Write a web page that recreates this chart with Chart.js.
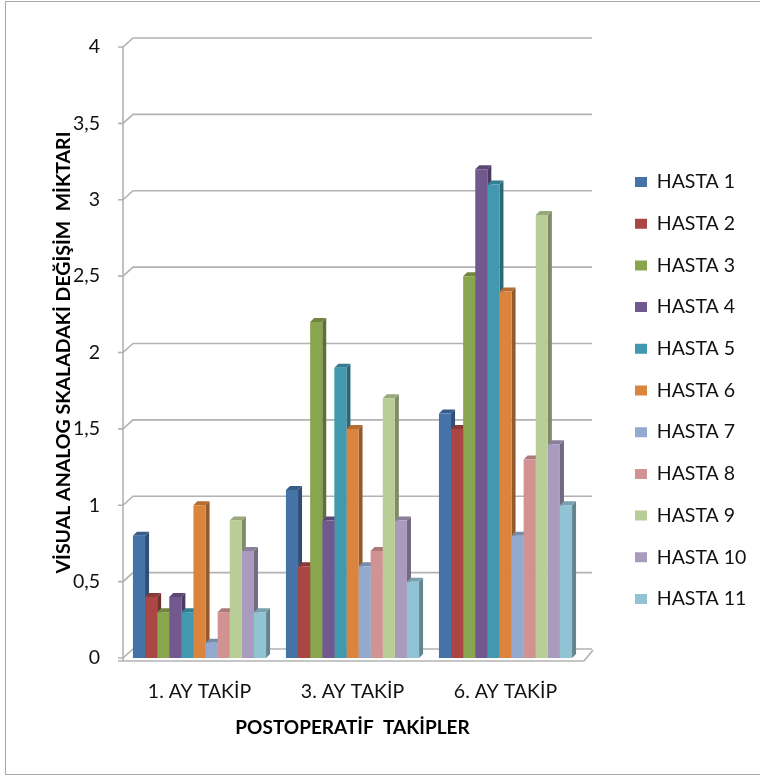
<!DOCTYPE html>
<html>
<head>
<meta charset="utf-8">
<script src="https://cdn.jsdelivr.net/npm/chart.js@4.4.1/dist/chart.umd.min.js"></script>
<style>
  html, body { margin: 0; padding: 0; background: #ffffff; }
  canvas { display: block; }
</style>
</head>
<body>
<canvas id="c" width="760" height="775"></canvas>
<script>
// ---------- DATA ----------
const categories = ['1. AY TAKİP', '3. AY TAKİP', '6. AY TAKİP'];
const seriesNames = ['HASTA 1', 'HASTA 2', 'HASTA 3', 'HASTA 4', 'HASTA 5', 'HASTA 6',
                     'HASTA 7', 'HASTA 8', 'HASTA 9', 'HASTA 10', 'HASTA 11'];
const hasta1  = [0.8, 1.1, 1.6];
const hasta2  = [0.4, 0.6, 1.5];
const hasta3  = [0.3, 2.2, 2.5];
const hasta4  = [0.4, 0.9, 3.2];
const hasta5  = [0.3, 1.9, 3.1];
const hasta6  = [1.0, 1.5, 2.4];
const hasta7  = [0.1, 0.6, 0.8];
const hasta8  = [0.3, 0.7, 1.3];
const hasta9  = [0.9, 1.7, 2.9];
const hasta10 = [0.7, 0.9, 1.4];
const hasta11 = [0.3, 0.5, 1.0];
const seriesValues = [hasta1, hasta2, hasta3, hasta4, hasta5, hasta6,
                      hasta7, hasta8, hasta9, hasta10, hasta11];
const yMin = 0, yMax = 4, yStep = 0.5;
const yTitle = 'VİSUAL ANALOG SKALADAKİ DEĞİŞİM  MİKTARI';
const xTitle = 'POSTOPERATİF  TAKİPLER';

// ---------- STYLE ----------
const palette = ['#4572A7', '#AA4643', '#89A54E', '#71588F', '#4198AF', '#DB843D',
                 '#93A9CF', '#D19392', '#B9CD96', '#A99BBD', '#92C3D4'];
const FONT = 'Lato';
const FS = 19.5;          // regular text size
const DEPTH = 4;          // 3D depth of the bars (px)
const WALL_DX = 10, WALL_DY = 9; // back-wall offset for gridlines

// legend geometry
const LEG_BOX_W = 12, LEG_BOX_H = 10, LEG_PAD = 22.2;
const LEG_ITEM_X = 635;           // where the legend keys start
const PLOT_RIGHT = 582;           // right edge of the plot (front)
const legendLeft = LEG_ITEM_X - LEG_PAD;
const mctx = document.createElement('canvas').getContext('2d');
mctx.font = `${FS}px ${FONT}`;
const maxLabelW = Math.max(...seriesNames.map(s => mctx.measureText(s).width));
const legendW = LEG_PAD + LEG_BOX_W + FS / 2 + maxLabelW + 10;
const padRight = Math.max(0, 760 - legendLeft - legendW);

function shade(hex, f) {
  const n = parseInt(hex.slice(1), 16);
  const r = Math.round(((n >> 16) & 255) * f);
  const g = Math.round(((n >> 8) & 255) * f);
  const b = Math.round((n & 255) * f);
  return `rgb(${Math.min(255,r)},${Math.min(255,g)},${Math.min(255,b)})`;
}

const frame3d = {
  id: 'frame3d',
  beforeDraw(chart) {
    const { ctx, chartArea: a, scales: { y } } = chart;
    ctx.save();
    ctx.fillStyle = '#ffffff';
    ctx.fillRect(0, 0, chart.width, chart.height);
    // outer border
    ctx.strokeStyle = '#a8a8a8';
    ctx.lineWidth = 1;
    ctx.strokeRect(5.5, 1.5, chart.width + 10, chart.height - 2);
    // gridlines on back wall + tick marks
    ctx.strokeStyle = '#b2b2b2';
    ctx.lineWidth = 1.6;
    y.ticks.forEach(t => {
      const py = y.getPixelForValue(t.value);
      ctx.beginPath();
      ctx.moveTo(a.left - 5, py);
      ctx.lineTo(a.left, py);
      ctx.lineTo(a.left + WALL_DX, py - WALL_DY);
      ctx.lineTo(a.right + WALL_DX, py - WALL_DY);
      ctx.stroke();
    });
    // left wall edge
    ctx.beginPath();
    ctx.moveTo(a.left, y.getPixelForValue(yMax) - 1);
    ctx.lineTo(a.left, y.getPixelForValue(yMin) + 3);
    ctx.stroke();
    // floor front edge
    const zb = y.getPixelForValue(0);
    ctx.beginPath();
    ctx.moveTo(a.left - 5, zb + 3);
    ctx.lineTo(a.right + 2, zb + 3);
    ctx.lineTo(a.right + WALL_DX + 1, zb - WALL_DY + 1);
    ctx.stroke();
    ctx.restore();
  },
  beforeDatasetsDraw(chart) {
    const { ctx } = chart;
    ctx.save();
    for (let j = 0; j < categories.length; j++) {
      chart.data.datasets.forEach((ds, i) => {
        const bar = chart.getDatasetMeta(i).data[j];
        if (!bar) return;
        const { x, y, base, width } = bar.getProps(['x', 'y', 'base', 'width'], true);
        const l = x - width / 2, r = x + width / 2;
        const col = palette[i];
        // side face
        ctx.fillStyle = shade(col, 0.68);
        ctx.beginPath();
        ctx.moveTo(r, y);
        ctx.lineTo(r + DEPTH, y - DEPTH);
        ctx.lineTo(r + DEPTH, base - DEPTH);
        ctx.lineTo(r, base);
        ctx.closePath();
        ctx.fill();
        // top face
        ctx.fillStyle = shade(col, 0.82);
        ctx.beginPath();
        ctx.moveTo(l, y);
        ctx.lineTo(l + DEPTH, y - DEPTH);
        ctx.lineTo(r + DEPTH, y - DEPTH);
        ctx.lineTo(r, y);
        ctx.closePath();
        ctx.fill();
      });
    }
    ctx.restore();
  }
};

const datasets = seriesNames.map((name, i) => ({
  label: name,
  data: seriesValues[i],
  backgroundColor: palette[i],
  borderWidth: 0,
  barPercentage: 1.0,
  categoryPercentage: 0.87
}));

new Chart(document.getElementById('c'), {
  type: 'bar',
  data: { labels: categories, datasets },
  plugins: [frame3d],
  options: {
    responsive: false,
    animation: false,
    devicePixelRatio: 1,
    layout: { padding: { left: 0, top: 47, right: padRight, bottom: 41 } },
    plugins: {
      tooltip: { enabled: false },
      legend: {
        position: 'right',
        maxWidth: 300,
        labels: {
          boxWidth: LEG_BOX_W,
          boxHeight: LEG_BOX_H,
          padding: LEG_PAD,
          color: '#111111',
          font: { family: FONT, size: FS }
        }
      }
    },
    scales: {
      x: {
        grid: { display: false, drawTicks: false },
        border: { display: false },
        ticks: { padding: 22, color: '#111111', font: { family: FONT, size: FS } },
        title: {
          display: true, text: xTitle, color: '#000000',
          font: { family: FONT, size: 19, weight: 'bold' },
          padding: { top: 0, bottom: -5.4 }
        },
        afterFit(s) { s.height = 76; }
      },
      y: {
        min: yMin, max: yMax,
        grid: { display: false, drawTicks: false },
        border: { display: false },
        ticks: {
          stepSize: yStep, padding: 23, color: '#111111',
          font: { family: FONT, size: FS },
          callback: v => String(v).replace('.', ',')
        },
        title: {
          display: true, text: yTitle, color: '#000000',
          font: { family: FONT, size: 19.5, weight: 'bold' },
          padding: { top: 52, bottom: 0 }
        },
        afterFit(s) { s.width = 123; }
      },
      y2: {
        position: 'right',
        display: true,
        grid: { display: false, drawTicks: false },
        border: { display: false },
        ticks: { display: false },
        afterFit(s) { s.width = legendLeft - PLOT_RIGHT; }
      }
    }
  }
});
</script>
</body>
</html>
